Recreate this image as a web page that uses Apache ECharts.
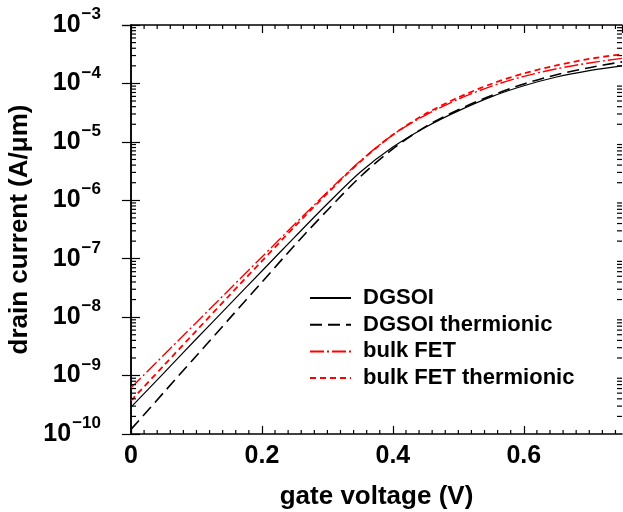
<!DOCTYPE html>
<html>
<head>
<meta charset="utf-8">
<script src="https://cdn.jsdelivr.net/npm/echarts@6/dist/echarts.min.js"></script>
<style>
  html, body { margin: 0; padding: 0; background: #ffffff; }
  #chart { width: 623px; height: 512px; }
</style>
</head>
<body>
<div id="chart"></div>
<script>
// Gate voltage sweep (V)
const gateVoltage = [0, 0.05, 0.1, 0.15, 0.2, 0.25, 0.3, 0.35, 0.4, 0.45, 0.5, 0.55, 0.6, 0.65, 0.7, 0.75];

// Drain current (A/um) for each device model
const dgsoi = [2.88e-10, 1.10e-9, 4.27e-9, 1.62e-8, 6.17e-8, 2.34e-7, 8.71e-7, 3.02e-6,
               8.13e-6, 1.78e-5, 3.39e-5, 5.89e-5, 9.12e-5, 1.29e-4, 1.66e-4, 2.00e-4];
const dgsoiThermionic = [1.20e-10, 5.13e-10, 2.19e-9, 9.33e-9, 3.98e-8, 1.70e-7, 6.76e-7, 2.51e-6,
               7.59e-6, 1.82e-5, 3.55e-5, 6.17e-5, 9.77e-5, 1.41e-4, 1.86e-4, 2.34e-4];
const bulkFet = [6.17e-10, 2.24e-9, 8.13e-9, 2.95e-8, 1.07e-7, 3.89e-7, 1.38e-6, 4.68e-6,
               1.32e-5, 2.88e-5, 5.37e-5, 8.91e-5, 1.32e-4, 1.78e-4, 2.24e-4, 2.69e-4];
const bulkFetThermionic = [3.72e-10, 1.48e-9, 5.89e-9, 2.34e-8, 9.12e-8, 3.55e-7, 1.32e-6, 4.57e-6,
               1.32e-5, 3.02e-5, 5.75e-5, 9.77e-5, 1.48e-4, 2.04e-4, 2.63e-4, 3.16e-4];

const seriesNames = ['DGSOI', 'DGSOI thermionic', 'bulk FET', 'bulk FET thermionic'];

// Axis ranges and tick values
const xMin = 0, xMax = 0.75, xMajorStep = 0.2, xMinorStep = 0.02;
const yMinExp = -10, yMaxExp = -3;

const FONT = '"Liberation Sans", Arial, Helvetica, sans-serif';

const pairs = ys => gateVoltage.map((v, i) => [v, ys[i]]);

// minor tick positions: every 0.02 V except majors; 2..9 x 10^k on the log axis
const xMinorTicks = [];
for (let i = 1; i * xMinorStep < xMax - 1e-9; i++) {
  const v = +(i * xMinorStep).toFixed(4);
  if (Math.abs(v / xMajorStep - Math.round(v / xMajorStep)) > 1e-6) xMinorTicks.push(v);
}
const yMinorTicks = [];
for (let e = yMinExp; e < yMaxExp; e++) {
  for (let m = 2; m <= 9; m++) yMinorTicks.push(m * Math.pow(10, e));
}

const chart = echarts.init(document.getElementById('chart'), null, { renderer: 'canvas' });

const minusSign = '\u2212';
function yLabel(val) {
  const e = Math.round(Math.log10(val));
  return '{b|10}{s|' + (e < 0 ? minusSign + (-e) : e) + '}';
}

const axisLine = { show: true, lineStyle: { color: '#000', width: 1.5 } };

const option = {
  backgroundColor: '#ffffff',
  animation: false,
  grid: { left: 131, right: 1, top: 25, bottom: 78, containLabel: false, outerBoundsMode: 'none' },
  legend: {
    data: seriesNames,
    orient: 'vertical',
    left: 309,
    top: 287,
    padding: 0,
    itemWidth: 41,
    itemHeight: 14,
    itemGap: 4.7,
    itemStyle: { opacity: 0 },
    textStyle: { fontFamily: FONT, fontWeight: 'bold', fontSize: 22, color: '#000', lineHeight: 22, padding: [0, 0, 0, 7] }
  },
  xAxis: [{
    type: 'value', position: 'bottom', min: xMin, max: xMax, interval: xMajorStep,
    axisLine: axisLine,
    axisTick: { inside: true, length: 8, lineStyle: { color: '#000', width: 1.2 } },
    splitLine: { show: false },
    axisLabel: {
      margin: 10, color: '#000', fontFamily: FONT, fontWeight: 'bold', fontSize: 25,
      showMaxLabel: false,
      formatter: v => (Math.abs(v) < 1e-9 ? '0' : String(+v.toFixed(1)))
    },
    name: 'gate voltage (V)', nameLocation: 'middle', nameGap: 50,
    nameTextStyle: { fontFamily: FONT, fontWeight: 'bold', fontSize: 26, color: '#000' }
  }, {
    type: 'value', position: 'top', min: xMin, max: xMax, interval: xMajorStep,
    axisLine: axisLine,
    axisTick: { inside: true, length: 8, lineStyle: { color: '#000', width: 1.2 } },
    axisLabel: { show: false }, splitLine: { show: false }
  }],
  yAxis: [{
    type: 'log', logBase: 10, position: 'left',
    min: Math.pow(10, yMinExp), max: Math.pow(10, yMaxExp),
    axisLine: axisLine,
    axisTick: { inside: true, length: 9, lineStyle: { color: '#000', width: 1.2 } },
    splitLine: { show: false },
    axisLabel: {
      margin: 30, color: '#000', formatter: yLabel,
      rich: {
        b: { fontFamily: FONT, fontWeight: 'bold', fontSize: 25, lineHeight: 38, verticalAlign: 'middle', color: '#000' },
        s: { fontFamily: FONT, fontWeight: 'bold', fontSize: 17, lineHeight: 18, verticalAlign: 'top', color: '#000', padding: [0, 0, 0, 1] }
      }
    },
    name: 'drain current (A/\u03bcm)', nameLocation: 'middle', nameGap: 97,
    nameTextStyle: { fontFamily: FONT, fontWeight: 'bold', fontSize: 26, color: '#000' }
  }, {
    type: 'log', logBase: 10, position: 'right',
    min: Math.pow(10, yMinExp), max: Math.pow(10, yMaxExp),
    axisLine: axisLine,
    axisTick: { inside: true, length: 9, lineStyle: { color: '#000', width: 1.2 } },
    axisLabel: { show: false }, splitLine: { show: false }
  }],
  series: [
    {
      name: 'DGSOI', type: 'line', smooth: 0.3, symbol: 'none', data: pairs(dgsoi),
      lineStyle: { color: '#000', width: 1.2, type: 'solid' }, itemStyle: { color: '#000' }
    },
    {
      name: 'DGSOI thermionic', type: 'line', smooth: 0.3, symbol: 'none', data: pairs(dgsoiThermionic),
      lineStyle: { color: '#000', width: 1.6, type: [12, 6] }, itemStyle: { color: '#000' }
    },
    {
      name: 'bulk FET', type: 'line', smooth: 0.3, symbol: 'none', data: pairs(bulkFet),
      lineStyle: { color: '#ff0000', width: 1.4, type: [14, 3, 2, 3] }, itemStyle: { color: '#ff0000' }
    },
    {
      name: 'bulk FET thermionic', type: 'line', smooth: 0.3, symbol: 'none', data: pairs(bulkFetThermionic),
      lineStyle: { color: '#ff0000', width: 1.8, type: [6, 4] }, itemStyle: { color: '#ff0000' }
    },
    {
      // minor ticks along the bottom and top edges
      type: 'custom', silent: true, clip: false, z: 5,
      data: xMinorTicks.map(v => [v, Math.pow(10, yMinExp)]),
      renderItem: (params, api) => {
        const cs = params.coordSys;
        const x = api.coord([api.value(0), api.value(1)])[0];
        const st = { stroke: '#000', lineWidth: 1.2 };
        return { type: 'group', children: [
          { type: 'line', shape: { x1: x, y1: cs.y + cs.height, x2: x, y2: cs.y + cs.height - 4 }, style: st },
          { type: 'line', shape: { x1: x, y1: cs.y, x2: x, y2: cs.y + 4 }, style: st }
        ] };
      }
    },
    {
      // logarithmic minor ticks along the left and right edges
      type: 'custom', silent: true, clip: false, z: 5,
      data: yMinorTicks.map(v => [xMin, v]),
      renderItem: (params, api) => {
        const cs = params.coordSys;
        const y = api.coord([api.value(0), api.value(1)])[1];
        const st = { stroke: '#000', lineWidth: 1.2 };
        return { type: 'group', children: [
          { type: 'line', shape: { x1: cs.x, y1: y, x2: cs.x + 5, y2: y }, style: st },
          { type: 'line', shape: { x1: cs.x + cs.width, y1: y, x2: cs.x + cs.width - 5, y2: y }, style: st }
        ] };
      }
    }
  ]
};

chart.setOption(option);
</script>
</body>
</html>
